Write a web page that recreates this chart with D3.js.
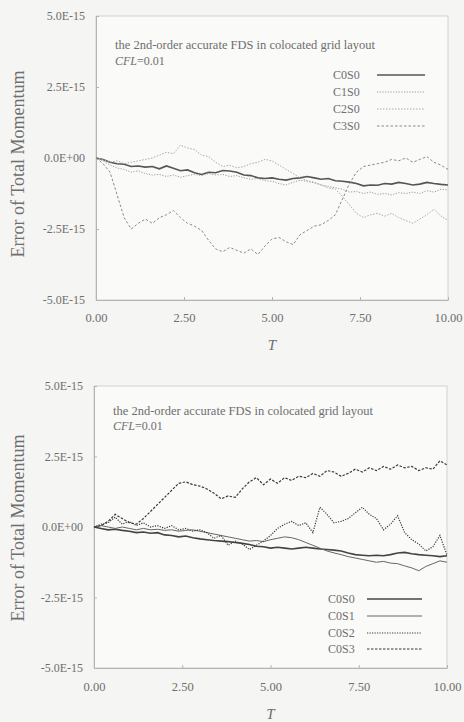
<!DOCTYPE html>
<html lang="en">
<head>
    <meta charset="UTF-8">
    <title>Error of Total Momentum</title>
    <script src="https://d3js.org/d3.v7.min.js"></script>
    <style>
        body { margin: 0; background: #f5f5f3; }
        svg { display: block; }
        text { font-family: "Liberation Serif", "DejaVu Serif", serif; fill: #6e6e6e; }
        .frame { fill: #fafaf9; stroke: #d2d2d2; stroke-width: 1px; }
        .axis path, .axis line { stroke: #b4b4b4; }
        .series { fill: none; }
    </style>
</head>
<body>
    <script>
        // sample times T (shared by all curves)
        const tGrid = d3.range(51).map(i => +(i * 0.2).toFixed(1));

        // y tick values (units of 1E-15) and labels
        const yTicks = [5, 2.5, 0, -2.5, -5];
        const yTickLabels = ["5.0E-15", "2.5E-15", "0.0E+00", "-2.5E-15", "-5.0E-15"];
        const xTicks = [0, 2.5, 5, 7.5, 10];
        const xTickLabels = ["0.00", "2.50", "5.00", "7.50", "10.00"];

        // upper panel, error (units of 1E-15)
        const topC0S0 = [0, -0.05, -0.15, -0.2, -0.22, -0.3, -0.28, -0.32, -0.3, -0.38,
            -0.28, -0.36, -0.45, -0.42, -0.52, -0.58, -0.5, -0.52, -0.44, -0.46,
            -0.5, -0.6, -0.62, -0.7, -0.72, -0.7, -0.75, -0.78, -0.72, -0.7,
            -0.65, -0.7, -0.75, -0.72, -0.8, -0.82, -0.85, -0.9, -0.98, -0.95,
            -0.96, -0.9, -0.92, -0.86, -0.9, -0.95, -0.92, -0.86, -0.9, -0.93,
            -0.95];
        const topC1S0 = [0, -0.1, -0.25, -0.35, -0.4, -0.5, -0.45, -0.55, -0.6, -0.58,
            -0.65, -0.6, -0.68, -0.62, -0.58, -0.62, -0.55, -0.6, -0.58, -0.65,
            -0.62, -0.7, -0.75, -0.72, -0.8, -0.82, -0.9, -0.95, -0.85, -0.78,
            -0.82, -0.88, -0.95, -1.0, -1.05, -1.1, -1.2, -1.18, -1.25, -1.2,
            -1.28, -1.25, -1.3, -1.22, -1.25, -1.2, -1.25, -1.15, -1.2, -1.1,
            -1.12];
        const topC2S0 = [0, -0.05, -0.15, -0.1, -0.2, -0.15, -0.1, -0.05, 0.0, 0.1,
            0.2, 0.15, 0.45, 0.35, 0.3, 0.1, 0.05, -0.15, -0.3, -0.25,
            -0.35, -0.3, -0.2, -0.15, -0.05, -0.1, -0.25, -0.4, -0.55, -0.7,
            -0.8, -0.85, -0.95, -1.05, -1.1, -1.35, -1.65, -1.95, -2.1, -2.0,
            -1.95, -2.05, -1.95, -2.1, -2.2, -2.3, -2.15, -2.0, -1.8, -2.05,
            -2.2];
        const topC3S0 = [0, -0.2, -0.5, -1.3, -2.1, -2.5, -2.3, -2.15, -2.3, -2.1,
            -2.0, -1.85, -2.1, -2.3, -2.4, -2.55, -2.9, -3.2, -3.3, -3.15,
            -3.25, -3.35, -3.2, -3.4, -3.1, -2.85, -2.8, -2.95, -3.05, -2.7,
            -2.55, -2.4, -2.35, -2.2, -2.0, -1.45, -0.9, -0.5, -0.3, -0.25,
            -0.2, -0.15, -0.05, -0.1, 0.0, -0.15, -0.05, 0.05, -0.15, -0.25,
            -0.4];

        // lower panel
        const botC0S0 = [0, -0.05, -0.1, -0.08, -0.12, -0.15, -0.2, -0.18, -0.22, -0.2,
            -0.28, -0.3, -0.35, -0.32, -0.38, -0.42, -0.45, -0.48, -0.5, -0.52,
            -0.55, -0.58, -0.62, -0.68, -0.7, -0.75, -0.72, -0.75, -0.78, -0.75,
            -0.72, -0.75, -0.78, -0.8, -0.82, -0.85, -0.92, -0.98, -1.0, -1.02,
            -1.0, -1.02, -0.98, -0.92, -0.9, -0.95, -0.98, -1.0, -1.02, -1.05,
            -1.02];
        const botC0S1 = [0, 0.05, 0.0, -0.05, 0.0, -0.05, -0.1, -0.05, -0.1, -0.08,
            -0.12, -0.1, -0.15, -0.12, -0.1, -0.15, -0.2, -0.25, -0.3, -0.35,
            -0.4, -0.45, -0.5, -0.48, -0.52, -0.45, -0.4, -0.35, -0.38, -0.45,
            -0.55, -0.65, -0.75, -0.85, -0.92, -0.98, -1.05, -1.1, -1.15, -1.2,
            -1.25, -1.22, -1.28, -1.3, -1.38, -1.45, -1.55, -1.4, -1.3, -1.2,
            -1.25];
        const botC0S2 = [0, 0.1, 0.15, 0.35, 0.1, 0.2, 0.05, 0.15, 0.0, 0.05,
            -0.05, 0.05, -0.1, -0.05, -0.15, -0.1, -0.2, -0.4, -0.3, -0.65,
            -0.5, -0.6, -0.8, -0.65, -0.5, -0.3, -0.05, 0.1, 0.2, 0.05,
            0.15, -0.2, 0.7, 0.45, 0.15, 0.2, 0.3, 0.5, 0.7, 0.45,
            0.3, -0.1, 0.1, 0.4, -0.2, -0.45, -0.6, -0.85, -0.7, -0.3,
            -1.0];
        const botC0S3 = [0, 0.05, 0.2, 0.45, 0.3, 0.15, 0.1, 0.3, 0.55, 0.8,
            1.05, 1.3, 1.55, 1.6, 1.5, 1.45, 1.35, 1.2, 1.0, 1.1,
            1.05, 1.35, 1.6, 1.75, 1.5, 1.7, 1.55, 1.75, 1.65, 1.8,
            1.75, 1.9, 1.8, 2.0, 1.95, 1.8, 1.9, 2.05, 1.95, 2.1,
            2.0, 2.15, 2.05, 2.2, 2.1, 2.15, 2.0, 2.1, 2.05, 2.35,
            2.2];

        const width = 464, height = 722;
        const svg = d3.select("body").append("svg")
            .attr("width", width)
            .attr("height", height);

        const panels = [
            {
                left: 96, right: 448, top: 16, bottom: 300,
                titleY: 164, xLabelY: 322, tY: 350,
                noteX: 115, noteY: [49, 65],
                legendX: 333, legendLineX: [377, 425], legendY: [75, 92, 109, 126],
                series: [
                    { name: "C0S0", values: topC0S0, color: "#555", width: 1.6, dash: null },
                    { name: "C1S0", values: topC1S0, color: "#9a9a9a", width: 1, dash: "1.2,1.5" },
                    { name: "C2S0", values: topC2S0, color: "#ababab", width: 1, dash: "1.5,1.5" },
                    { name: "C3S0", values: topC3S0, color: "#8a8a8a", width: 1, dash: "2.5,2" }
                ]
            },
            {
                left: 94, right: 447, top: 386, bottom: 668,
                titleY: 528, xLabelY: 691, tY: 719,
                noteX: 113, noteY: [415, 430],
                legendX: 328, legendLineX: [367, 422], legendY: [599, 616, 633, 649],
                series: [
                    { name: "C0S0", values: botC0S0, color: "#444", width: 1.6, dash: null },
                    { name: "C0S1", values: botC0S1, color: "#666", width: 1, dash: null },
                    { name: "C0S2", values: botC0S2, color: "#3a3a3a", width: 1.2, dash: "1.2,1.3" },
                    { name: "C0S3", values: botC0S3, color: "#3a3a3a", width: 1.2, dash: "2.5,1.5" }
                ]
            }
        ];

        panels.forEach(p => {
            const x = d3.scaleLinear().domain([0, 10]).range([p.left, p.right]);
            const y = d3.scaleLinear().domain([-5, 5]).range([p.bottom, p.top]);
            const g = svg.append("g");

            // plot frame
            g.append("rect")
                .attr("class", "frame")
                .attr("x", p.left).attr("y", p.top)
                .attr("width", p.right - p.left).attr("height", p.bottom - p.top);

            // axes with short inward ticks
            const yAxis = g.append("g")
                .attr("class", "axis")
                .attr("transform", `translate(${p.left},0)`)
                .call(d3.axisLeft(y).tickValues(yTicks).tickSize(-3).tickSizeOuter(0)
                    .tickFormat((d, i) => yTickLabels[i]));
            yAxis.selectAll("text")
                .attr("x", -11)
                .style("font-size", "12px");

            const xAxis = g.append("g")
                .attr("class", "axis")
                .attr("transform", `translate(0,${p.bottom})`)
                .call(d3.axisBottom(x).tickValues(xTicks).tickSize(-3).tickSizeOuter(0)
                    .tickFormat((d, i) => xTickLabels[i]));
            xAxis.selectAll("text")
                .attr("y", p.xLabelY - p.bottom)
                .attr("dy", 0)
                .style("font-size", "12.5px");
            xAxis.select(".domain").attr("stroke", "#aaa");

            // axis titles
            g.append("text")
                .attr("transform", `translate(24,${p.titleY}) rotate(-90)`)
                .attr("text-anchor", "middle")
                .style("font-size", "18px")
                .text("Error of Total Momentum");
            g.append("text")
                .attr("x", (p.left + p.right) / 2)
                .attr("y", p.tY)
                .attr("text-anchor", "middle")
                .style("font-size", "15px")
                .style("font-style", "italic")
                .text("T");

            // annotation
            g.append("text")
                .attr("x", p.noteX).attr("y", p.noteY[0])
                .style("font-size", "12.5px")
                .text("the 2nd-order accurate FDS in colocated grid layout");
            const cfl = g.append("text")
                .attr("x", p.noteX).attr("y", p.noteY[1])
                .style("font-size", "12px");
            cfl.append("tspan").style("font-style", "italic").text("CFL");
            cfl.append("tspan").text("=0.01");

            // curves
            const line = d3.line()
                .x((d, i) => x(tGrid[i]))
                .y(d => y(d));
            g.selectAll(".series")
                .data(p.series)
                .join("path")
                .attr("class", "series")
                .attr("stroke", d => d.color)
                .attr("stroke-width", d => d.width)
                .attr("stroke-dasharray", d => d.dash)
                .attr("d", d => line(d.values));

            // legend
            const leg = g.selectAll(".legend")
                .data(p.series)
                .join("g")
                .attr("class", "legend")
                .attr("transform", (d, i) => `translate(0,${p.legendY[i]})`);
            leg.append("text")
                .attr("x", p.legendX)
                .attr("y", 4)
                .style("font-size", "12px")
                .text(d => d.name);
            leg.append("line")
                .attr("x1", p.legendLineX[0]).attr("x2", p.legendLineX[1])
                .attr("stroke", d => d.color)
                .attr("stroke-width", d => d.width)
                .attr("stroke-dasharray", d => d.dash);
        });
    </script>
</body>
</html>
